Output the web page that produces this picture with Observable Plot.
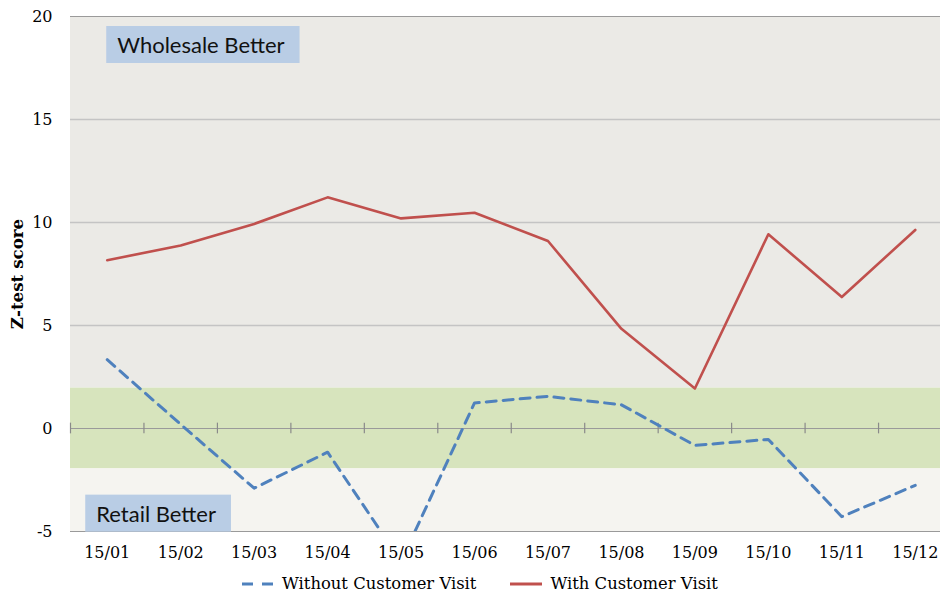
<!DOCTYPE html>
<html><head><meta charset="utf-8">
<script src="https://cdn.jsdelivr.net/npm/d3@7"></script>
<script src="https://cdn.jsdelivr.net/npm/@observablehq/plot@0.6"></script>
<style>
body{margin:0;background:#fff;width:940px;height:592px;overflow:hidden;position:relative;}
#legend{position:absolute;top:574px;left:242px;display:flex;align-items:center;font:16.4px "DejaVu Serif";color:#000;line-height:20px;}
#legend .item{display:flex;align-items:center;margin-right:34px;}
#legend svg{margin-right:8px;}
</style></head><body>
<div id="chart"></div>
<div id="legend"></div>
<script>
const months = ["15/01","15/02","15/03","15/04","15/05","15/06","15/07","15/08","15/09","15/10","15/11","15/12"];
const withVisit = [8.17, 8.88, 9.93, 11.22, 10.2, 10.47, 9.1, 4.84, 1.94, 9.43, 6.38, 9.64];
const withoutVisit = [3.34, 0.2, -2.9, -1.15, -6.45, 1.24, 1.56, 1.15, -0.82, -0.53, -4.28, -2.76];
const yTicks = [-5, 0, 5, 10, 15, 20];
const zoneLow = [1.96, -1.96, -5];
const zoneHigh = [20, 1.96, -1.96];
const zoneFill = ["#ebeae6", "#d7e4bd", "#f5f4f0"];
const noteLabels = ["Wholesale Better", "Retail Better"];
const noteX = [0, 0];
const noteDx = [10, -11];
const noteY = [18.57, -4.18];
const seriesNames = ["Without Customer Visit", "With Customer Visit"];
const seriesColors = ["#4f81bd", "#c0504d"];

const rows = months.map((m, i) => ({i, month: m, without: withoutVisit[i], with: withVisit[i]}));
const zones = zoneLow.map((lo, k) => ({lo, hi: zoneHigh[k], fill: zoneFill[k]}));
const notes = noteLabels.map((t, k) => ({t, x: noteX[k], y: noteY[k], dx: noteDx[k]}));
const edges = months.map((m, i) => i - 0.5);
const serif = "DejaVu Serif";

const chart = Plot.plot({
  width: 940,
  height: 566,
  marginTop: 16,
  marginBottom: 35,
  marginLeft: 70,
  marginRight: 0,
  style: {background: "#fff", fontFamily: serif, overflow: "visible"},
  x: {type: "linear", domain: [-0.5, 11.5], range: [70, 951.5]},
  y: {domain: [-5, 20]},
  marks: [
    Plot.rect(zones, {y1: "lo", y2: "hi", fill: "fill"}),
    Plot.ruleY([5, 10, 15], {stroke: "#c4c4c4", strokeWidth: 1.3}),
    Plot.ruleY([20, -5], {stroke: "#9a9a9a", strokeWidth: 1.2}),
    Plot.ruleY([0], {stroke: "#9a9a9a", strokeWidth: 1.2}),
    Plot.ruleX(edges, {x: d => d, y1: -0.26, y2: 0.26, stroke: "#8a8a8a", strokeWidth: 1.2}),
    Plot.axisY({ticks: yTicks, tickFormat: d => String(d), tickSize: 0, tickPadding: 18, fontSize: 16, fontFamily: serif, label: null, fill: "#000"}),
    Plot.axisX({ticks: d3.range(months.length), tickFormat: i => months[i], tickSize: 0, tickPadding: 15, fontSize: 16, fontFamily: serif, label: null, fill: "#000"}),
    Plot.text(["Z-test score"], {frameAnchor: "left", textAnchor: "middle", rotate: -90, dx: -53, fontSize: 16.7, fontWeight: "bold", fontFamily: serif, fill: "#000"}),
    Plot.line(rows, {x: "i", y: "without", stroke: seriesColors[0], strokeWidth: 3, strokeDasharray: "10,7", clip: "frame"}),
    Plot.line(rows, {x: "i", y: "with", stroke: seriesColors[1], strokeWidth: 2.6, clip: "frame"}),
    Plot.text(notes, {x: "x", y: "y", text: "t", textAnchor: "start", fontSize: 22, fontFamily: "Lato", fill: "#111", className: "note"})
  ]
});
document.getElementById("chart").appendChild(chart);

// per-datum horizontal offset of annotation texts
const noteTexts = chart.querySelectorAll("g.note text");
noteTexts.forEach((t, k) => {
  const cur = t.getAttribute("transform") || "";
  t.setAttribute("transform", cur + ` translate(${notes[k].dx},0)`);
});
// boxes behind annotation texts
const noteG = chart.querySelector("g.note");
const boxG = document.createElementNS("http://www.w3.org/2000/svg", "g");
noteG.parentNode.insertBefore(boxG, noteG);
noteTexts.forEach(t => {
  const b = t.getBBox();
  const m = t.getCTM();
  const pt = chart.createSVGPoint();
  pt.x = b.x; pt.y = b.y + b.height / 2;
  const p = pt.matrixTransform(m);
  const r = document.createElementNS("http://www.w3.org/2000/svg", "rect");
  r.setAttribute("x", p.x - 11);
  r.setAttribute("y", p.y - 18.5);
  r.setAttribute("width", b.width + 26);
  r.setAttribute("height", 37);
  r.setAttribute("fill", "#b9cde5");
  boxG.appendChild(r);
});

// legend
const legend = d3.select("#legend");
seriesNames.forEach((name, k) => {
  const item = legend.append("div").attr("class", "item");
  const s = item.append("svg").attr("width", 32).attr("height", 10);
  s.append("line").attr("x1", 0).attr("x2", 32).attr("y1", 5).attr("y2", 5)
    .attr("stroke", seriesColors[k]).attr("stroke-width", 3)
    .attr("stroke-dasharray", k === 0 ? "11,9" : null);
  item.append("span").text(name);
});
</script>
</body></html>
